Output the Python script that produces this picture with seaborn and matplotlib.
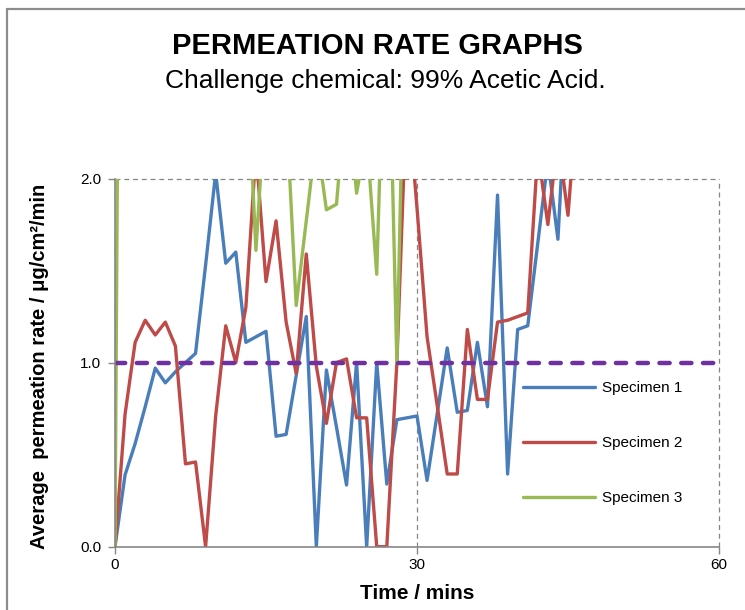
import matplotlib
matplotlib.use('Agg')
import matplotlib.pyplot as plt
import seaborn as sns
from matplotlib.lines import Line2D

# time in minutes (one reading per minute)
time_1 = list(range(0, 46))
time_2 = list(range(0, 47))
time_3 = list(range(0, 30))

specimen_1 = [0.00, 0.39, 0.56, 0.76, 0.97, 0.89, 0.95, 1.00, 1.05, 1.53,
              2.03, 1.54, 1.60, 1.11, 1.14, 1.17, 0.60, 0.61, 0.93, 1.25,
              0.00, 0.96, 0.65, 0.335, 1.00, 0.00, 1.00, 0.34, 0.69, 0.70,
              0.71, 0.36, 0.72, 1.08, 0.73, 0.74, 1.11, 0.76, 1.91, 0.395,
              1.18, 1.20, 1.65, 2.10, 1.67, 2.70]

specimen_2 = [0.00, 0.72, 1.11, 1.23, 1.15, 1.22, 1.09, 0.45, 0.46, 0.00,
              0.71, 1.20, 1.00, 1.30, 2.15, 1.44, 1.77, 1.22, 0.94, 1.59,
              0.98, 0.67, 1.00, 1.02, 0.70, 0.70, 0.00, 0.00, 1.00, 2.50,
              1.84, 1.14, 0.77, 0.395, 0.395, 1.18, 0.80, 0.80, 1.22, 1.23,
              1.25, 1.27, 2.15, 1.75, 2.22, 1.80, 2.50]

# specimen 3 runs off the top of the scale for most of the test
specimen_3 = [0.00, 8.70, 7.90, 6.50, 5.80, 6.20, 5.10, 4.40, 4.90, 3.80,
              4.20, 3.50, 3.10, 2.76, 1.61, 2.48, 2.60, 2.39, 1.31, 1.77,
              2.23, 1.83, 1.86, 2.50, 1.92, 2.23, 1.48, 3.30, 1.00, 3.50]

limit_x = [0, 60]
limit_y = [1.0, 1.0]

labels = ['Specimen 1', 'Specimen 2', 'Specimen 3']
colors = ['#4A7EBB', '#BE4B48', '#98B954']

sns.set_style('white')
plt.rcParams['font.family'] = ['Liberation Sans', 'DejaVu Sans']
plt.rcParams['text.color'] = 'black'
plt.rcParams['axes.labelcolor'] = 'black'
plt.rcParams['xtick.labelcolor'] = 'black'
plt.rcParams['ytick.labelcolor'] = 'black'

fig = plt.figure(figsize=(7.45, 6.10), dpi=100)
ax = fig.add_axes([115 / 745, 1 - 546.7 / 610, 604 / 745, 368.2 / 610])

grid_col = '#868686'
ax.axvline(30, color=grid_col, lw=0.9, ls=(0, (4, 3)), zorder=0)
ax.axvline(60, color=grid_col, lw=0.9, ls=(0, (4, 3)), zorder=0, clip_on=False)
ax.axhline(2.0, color=grid_col, lw=0.9, ls=(0, (4, 3)), zorder=0, clip_on=False)

series = [(time_1, specimen_1), (time_2, specimen_2), (time_3, specimen_3)]
for (t, v), lab, col in zip(series, labels, colors):
    sns.lineplot(x=t, y=v, ax=ax, color=col, lw=2.4, label=lab,
                 estimator=None, sort=False)

sns.lineplot(x=limit_x, y=limit_y, ax=ax, color='#7030A0', lw=3.2,
             dashes=False, label='_nolegend_')
ax.lines[-1].set_dashes((2.3, 2.6))
ax.lines[-1].set_dash_capstyle('round')

ax.set_xlim(0, 60)
ax.set_ylim(0, 2)
ax.set_xticks([0, 30, 60])
ax.set_yticks([0, 1, 2])
ax.set_yticklabels(['0.0', '1.0', '2.0'])
ax.tick_params(axis='both', direction='out', length=5, width=1,
               color=grid_col, labelsize=11, pad=5, left=True, bottom=True)
ax.tick_params(axis='x', pad=3)

for s in ['top', 'right']:
    ax.spines[s].set_visible(False)
for s in ['left', 'bottom']:
    ax.spines[s].set_color(grid_col)
    ax.spines[s].set_linewidth(1.2)

ax.set_xlabel('Time / mins', fontsize=15, fontweight='bold')
ax.xaxis.set_label_coords(0.5, -0.1)
ax.set_ylabel('Average  permeation rate / μg/cm²/min', fontsize=14.5,
              fontweight='bold')
ax.yaxis.set_label_coords(-0.11, 0.49)

ax.legend(loc='upper left', bbox_to_anchor=(0.675, 0.45), frameon=False,
          fontsize=11, handlelength=4.7, handletextpad=0.5, labelspacing=2.68,
          borderpad=0, borderaxespad=0)

fig.text(377 / 745, 1 - 46 / 610, 'PERMEATION RATE GRAPHS', ha='center',
         va='center', fontsize=21, fontweight='bold')
fig.text(385 / 745, 1 - 81 / 610, 'Challenge chemical: 99% Acetic Acid.',
         ha='center', va='center', fontsize=19)

# outer chart border (cropped on the right and bottom)
bx, by = 7.5 / 745, 1 - 8.5 / 610
fig.add_artist(Line2D([bx, bx], [0, by], color='#8C8C8C', lw=1.6))
fig.add_artist(Line2D([bx, 1], [by, by], color='#8C8C8C', lw=1.6))

fig.savefig('out.png', dpi=100)
